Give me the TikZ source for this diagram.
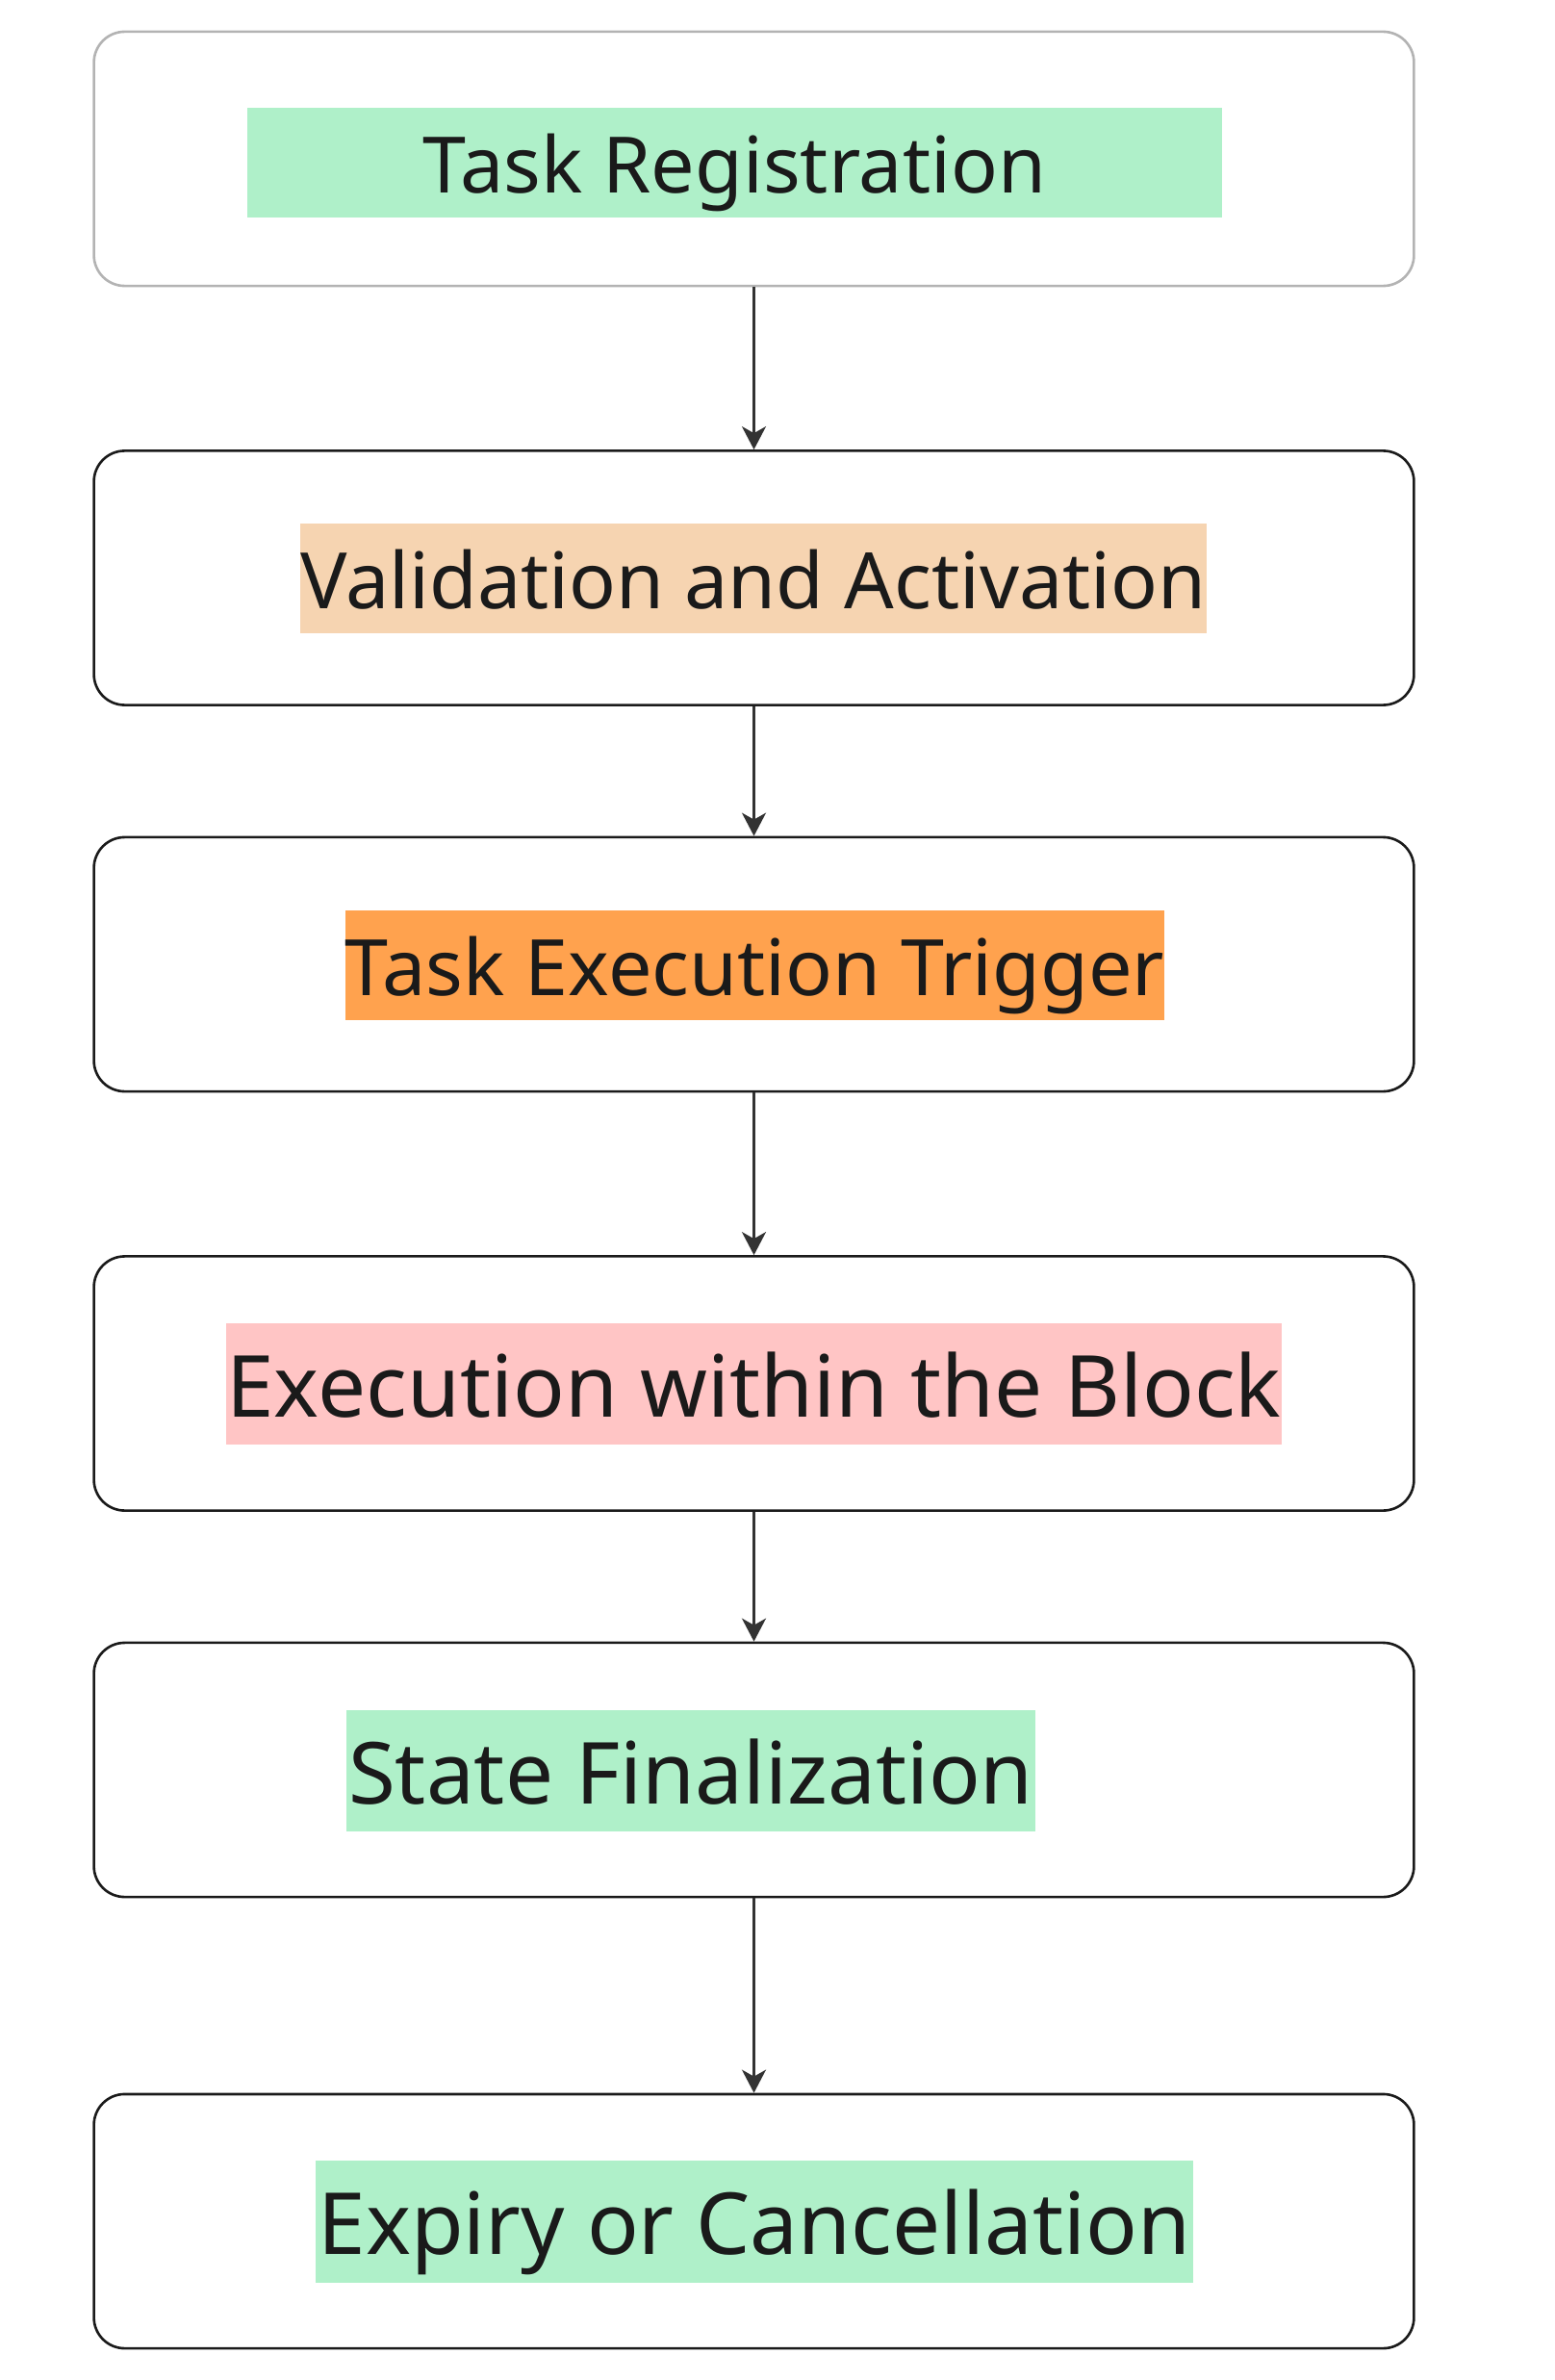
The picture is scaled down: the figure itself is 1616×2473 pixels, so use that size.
\documentclass[tikz,border=0pt]{standalone}
\usepackage{fontspec}
\setmainfont{Noto Sans}
\usetikzlibrary{arrows.meta}

\definecolor{ink}{HTML}{1A1A1A}
\definecolor{boxline}{HTML}{1A1A1A}
\definecolor{firstline}{HTML}{B3B3B3}
\definecolor{arrowc}{HTML}{333333}
\definecolor{mint}{HTML}{AFF0C9}
\definecolor{peach}{HTML}{F6D4B1}
\definecolor{amber}{HTML}{FFA24E}
\definecolor{rose}{HTML}{FFC5C5}

\begin{document}
\begin{tikzpicture}
[x=0.01cm,y=-0.01cm,%
  stage/.style={rectangle,rounded corners=0.32cm,draw=boxline,line width=0.026cm,%
    minimum width=13.71cm,minimum height=2.64cm,inner sep=0pt},%
  tag/.style={rectangle,inner sep=0pt,text=ink,%
    font=\fontsize{23}{27}\selectfont,text height=0.88cm,text depth=0.26cm},%
  bigtag/.style={tag,font=\fontsize{25.3}{29}\selectfont,text height=0.97cm,text depth=0.29cm},%
  flow/.style={-{Stealth[length=0.24cm,width=0.25cm,inset=0.07cm]},draw=arrowc,line width=0.026cm}]
\useasboundingbox (0,0) rectangle (1616,2473);
% stages
\node[stage,draw=firstline] (reg) at (783.5,165) {};
\node[stage] (val) at (783.5,600.5) {};
\node[stage] (trig) at (783.5,1002) {};
\node[stage] (exec) at (783.5,1437.5) {};
\node[stage] (fin) at (783.5,1839) {};
\node[stage] (exp) at (783.5,2308) {};
% highlighted titles
\node[tag,fill=mint,minimum width=10.13cm] (regt) at (763.5,169) {Task Registration};
\node[tag,fill=peach,minimum width=9.42cm] (valt) at (783,601) {Validation and Activation};
\node[tag,fill=amber,minimum width=8.49cm] (trigt) at (784.5,1003) {Task Execution Trigger};
\node[bigtag,fill=rose,minimum width=10.97cm] (exect) at (783.5,1438) {Execution within the Block};
\node[bigtag,fill=mint,minimum width=7.16cm] (fint) at (718,1840) {State Finalization};
\node[bigtag,fill=mint,minimum width=9.12cm] (expt) at (784,2308.5) {Expiry or Cancellation};
% arrows
\draw[flow] (reg) -- (val);
\draw[flow] (val) -- (trig);
\draw[flow] (trig) -- (exec);
\draw[flow] (exec) -- (fin);
\draw[flow] (fin) -- (exp);
\end{tikzpicture}
\end{document}
